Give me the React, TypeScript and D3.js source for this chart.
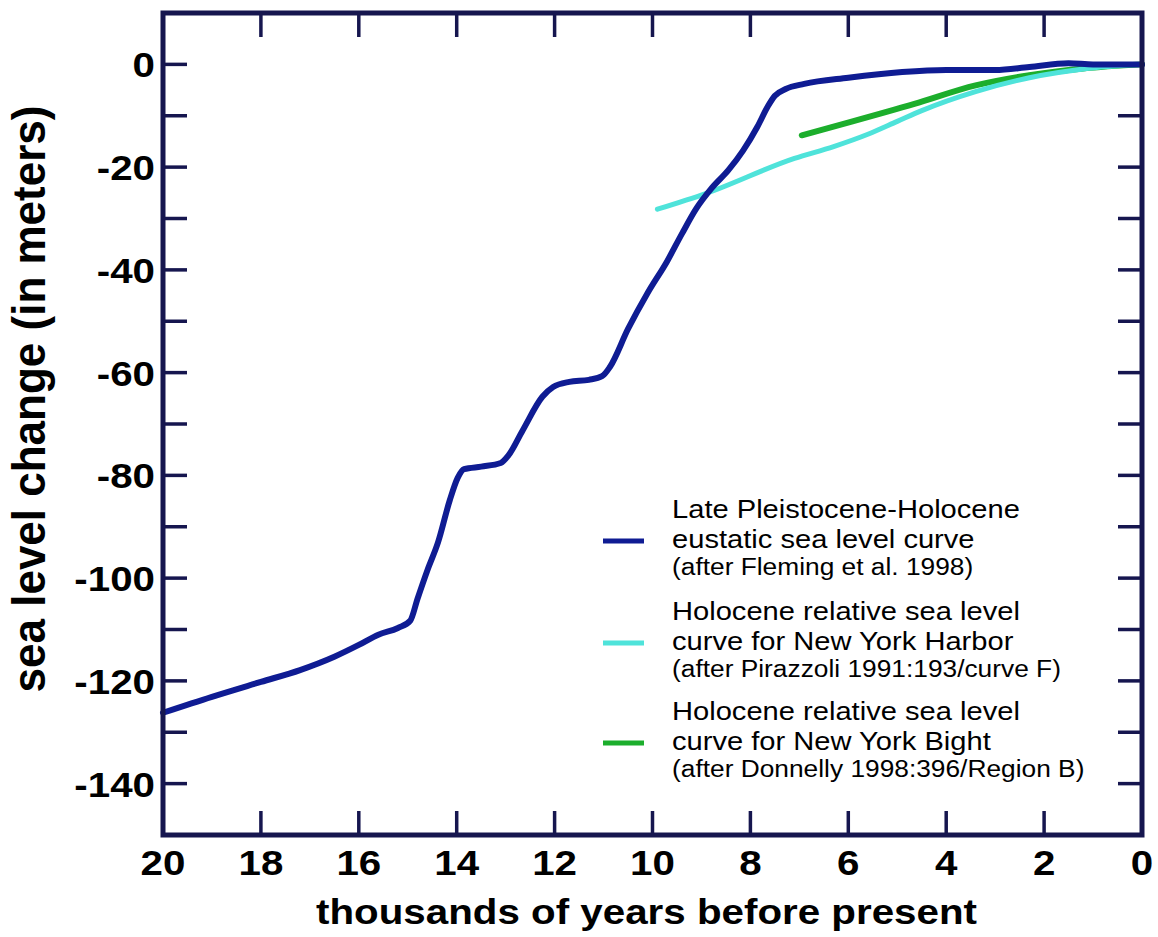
import React from 'react';
import * as d3 from 'd3';

// eustatic curve (Fleming et al. 1998), ka BP vs metres
const eustaticKa = [20, 19, 18, 17.2, 16.5, 16, 15.6, 15.2, 14.95, 14.8, 14.6, 14.38, 14.14, 13.98, 13.85, 13.5, 13.1, 12.95, 12.65, 12.25, 12.03, 11.7, 11.3, 11.03, 10.87, 10.5, 10.1, 9.7, 9.4, 9.1, 8.8, 8.45, 8.15, 7.86, 7.64, 7.5, 7.28, 6.9, 6.0, 4.9, 4.0, 3.0, 2.3, 1.5, 1.0, 0];
const eustaticM = [-126.2, -123.1, -120.2, -117.9, -115.3, -113.0, -111.0, -109.7, -108.3, -104.0, -98.5, -93.0, -84.8, -80.5, -78.8, -78.3, -77.6, -76.2, -71.2, -64.7, -62.8, -61.8, -61.4, -60.7, -58.9, -51.5, -44.5, -38.3, -33.0, -28.0, -24.2, -20.6, -16.8, -12.2, -8.1, -6.1, -4.8, -3.8, -2.6, -1.5, -1.1, -1.1, -0.5, 0.2, 0, 0];

// New York Harbor (Pirazzoli 1991)
const harborKa = [9.9, 8.9, 7.1, 6.3, 5.6, 5.0, 4.5, 3.4, 2.3, 1.2, 0];
const harborM = [-28.2, -25.1, -18.3, -16.0, -13.6, -11.1, -9.0, -5.3, -2.6, -0.9, 0];

// New York Bight (Donnelly 1998)
const bightKa = [6.95, 5.95, 4.65, 3.4, 2.3, 1.2, 0];
const bightM = [-13.8, -11.2, -7.7, -4.1, -2.1, -0.8, 0];

const xTickLabels = [20, 18, 16, 14, 12, 10, 8, 6, 4, 2, 0];
const yTickLabels = [0, -20, -40, -60, -80, -100, -120, -140];
const yMinorTicks = [-10, -30, -50, -70, -90, -110, -130];

const legendLabels = [
  ['Late Pleistocene-Holocene', 'eustatic sea level curve', '(after Fleming et al. 1998)'],
  ['Holocene relative sea level', 'curve for New York Harbor', '(after Pirazzoli 1991:193/curve F)'],
  ['Holocene relative sea level', 'curve for New York Bight', '(after Donnelly 1998:396/Region B)'],
];

const W = 1158;
const H = 937;
const M = { l: 163, r: 1142, t: 13, b: 835 };
const FRAME = '#16164f';
const BLUE = '#0f1c93';
const CYAN = '#4fe3da';
const GREEN = '#1cae2c';
const FONT = '"Liberation Sans", Arial, Helvetica, sans-serif';
const SX = 1.12; // the original type is a bit wide

function zip(a: number[], b: number[]) {
  return a.map((t, i) => [t, b[i]] as [number, number]);
}

export default function App() {
  const x = d3.scaleLinear().domain([20, 0]).range([M.l, M.r]);
  const y = d3.scaleLinear().domain([-150, 10]).range([M.b, M.t]);
  const line = d3
    .line<[number, number]>()
    .x((d) => x(d[0]))
    .y((d) => y(d[1]))
    .curve(d3.curveMonotoneX);

  const series = [
    { data: zip(bightKa, bightM), color: GREEN, w: 6 },
    { data: zip(harborKa, harborM), color: CYAN, w: 5 },
    { data: zip(eustaticKa, eustaticM), color: BLUE, w: 6 },
  ];
  const legendColors = [BLUE, CYAN, GREEN];
  const legendY = [541, 643, 743];
  const tickLen = 24;
  const yTicks = [...yTickLabels, ...yMinorTicks];
  const xTicks = xTickLabels.filter((t) => t !== 0 && t !== 20);

  return (
    <svg width={W} height={H} style={{ position: 'absolute', left: 0, top: 0, background: '#fff' }} fontFamily={FONT}>
      <rect x={0} y={0} width={W} height={H} fill="#fff" />
      {/* ticks */}
      <g stroke={FRAME} strokeWidth={3.5}>
        {yTicks.map((v) => (
          <g key={'y' + v}>
            <line x1={M.l} x2={M.l + tickLen} y1={y(v)} y2={y(v)} />
            <line x1={M.r} x2={M.r - tickLen} y1={y(v)} y2={y(v)} />
          </g>
        ))}
        {xTicks.map((t) => (
          <g key={'x' + t}>
            <line x1={x(t)} x2={x(t)} y1={M.t} y2={M.t + tickLen} />
            <line x1={x(t)} x2={x(t)} y1={M.b} y2={M.b - tickLen} />
          </g>
        ))}
      </g>
      {/* curves */}
      {series.map((s, i) => (
        <path key={i} d={line(s.data) || ''} fill="none" stroke={s.color} strokeWidth={s.w} strokeLinecap="round" strokeLinejoin="round" />
      ))}
      {/* frame */}
      <rect x={M.l} y={M.t} width={M.r - M.l} height={M.b - M.t} fill="none" stroke={FRAME} strokeWidth={5} />
      {/* tick labels */}
      {yTickLabels.map((v) => (
        <text key={'yl' + v} transform={`translate(155,${y(v) + 13}) scale(${SX},1)`} textAnchor="end" fontSize={36} fontWeight="bold" fill="#000">
          {v}
        </text>
      ))}
      {xTickLabels.map((t) => (
        <text key={'xl' + t} transform={`translate(${x(t)},875) scale(${SX},1)`} textAnchor="middle" fontSize={36} fontWeight="bold" fill="#000">
          {t}
        </text>
      ))}
      {/* axis titles */}
      <text transform={`translate(${(M.l + M.r) / 2 - 6},924) scale(${SX},1)`} textAnchor="middle" fontSize={36} fontWeight="bold" fill="#000">
        thousands of years before present
      </text>
      <text transform={`translate(45,399) rotate(-90) scale(1,1.05)`} textAnchor="middle" fontSize={44} fontWeight="bold" fill="#000">
        sea level change (in meters)
      </text>
      {/* legend */}
      {legendLabels.map((lines, i) => (
        <g key={'lg' + i}>
          <line x1={603} x2={644} y1={legendY[i]} y2={legendY[i]} stroke={legendColors[i]} strokeWidth={5} />
          <text transform={`translate(672,${legendY[i] - 23}) scale(${SX},1)`} fontSize={26} fill="#000">
            {lines[0]}
          </text>
          <text transform={`translate(672,${legendY[i] + 7}) scale(${SX},1)`} fontSize={26} fill="#000">
            {lines[1]}
          </text>
          <text transform={`translate(672,${legendY[i] + 34}) scale(${SX},1)`} fontSize={23.5} fill="#000">
            {lines[2]}
          </text>
        </g>
      ))}
    </svg>
  );
}
